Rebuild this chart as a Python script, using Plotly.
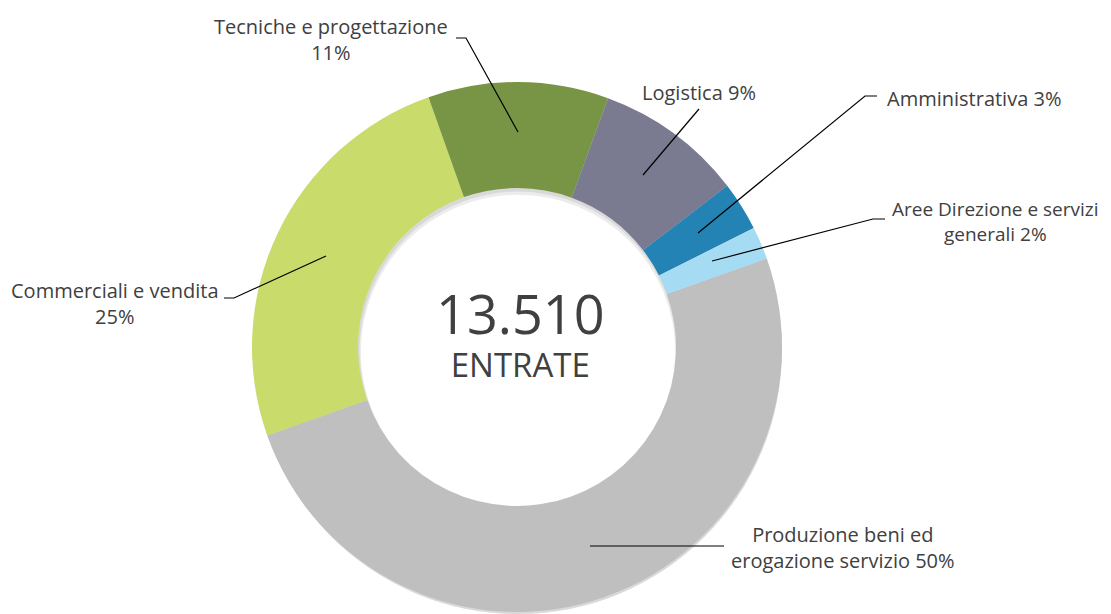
import plotly.graph_objects as go

# the page body adds an 8px margin, so the figure is drawn 8px in from the top-left
OFF = 8
W, H = 1111 - OFF, 614 - OFF

categories = ["Produzione beni ed erogazione servizio", "Commerciali e vendita",
              "Tecniche e progettazione", "Logistica", "Amministrativa",
              "Aree Direzione e servizi generali"]
shares = [50, 25, 11, 9, 3, 2]
colors = ["#bfbfbf", "#c9db6b", "#779544", "#7a7b90", "#2283b4", "#a6dcf3"]
label_texts = ["Produzione beni ed<br>erogazione servizio 50%",
               "Commerciali e vendita<br>25%",
               "Tecniche e progettazione<br>11%",
               "Logistica 9%",
               "Amministrativa 3%",
               "Aree Direzione e servizi<br>generali 2%"]
total_value = "13.510"
center_caption = "ENTRATE"


def px(x):
    return (x - OFF) / W


def py(y):
    return min(1.0, max(0.0, 1 - (y - OFF) / H))


fig = go.Figure()

# soft drop shadow of the ring (grey copies slightly lower, behind it)
for (x0, x1, y0, y1), col in [((256, 780, 614, 90), "#ececec"),
                              ((250, 786, 614, 86), "#d9d9d9")]:
    fig.add_trace(go.Pie(
        values=[1], sort=False, hole=0.6, textinfo="none", hoverinfo="skip",
        marker=dict(colors=[col], line=dict(width=0)),
        domain=dict(x=[px(x0), px(x1)], y=[py(y0), py(y1)]),
        showlegend=False,
    ))

fig.add_trace(go.Pie(
    labels=categories, values=shares, sort=False, direction="clockwise",
    rotation=70.5, hole=0.6, textinfo="none", hoverinfo="label+percent",
    marker=dict(colors=colors, line=dict(width=0)),
    domain=dict(x=[px(252), px(782)], y=[py(612), py(82)]),
    showlegend=False,
))

font = dict(family="Open Sans, Lato, sans-serif", size=20, color="#404040")
label_pos = [(843, 547, "center", 20), (115, 303, "center", 20), (331, 40, "center", 20),
             (699, 93, "center", 20), (885, 98, "left", 20), (995, 221, "center", 19)]
annotations = []
for txt, (x, y, anc, fs) in zip(label_texts, label_pos):
    annotations.append(dict(text=txt, x=px(x), y=py(y), xref="paper", yref="paper",
                            xanchor=anc, yanchor="middle", showarrow=False,
                            font=dict(font, size=fs), align="center"))
annotations.append(dict(
    text=f"<span style='font-size:54px'>{total_value}</span><br>{center_caption}",
    x=px(520), y=py(331), xref="paper", yref="paper",
    xanchor="center", yanchor="middle", showarrow=False, align="center",
    font=dict(family="Open Sans, sans-serif", size=33, color="#404040")))

leaders = [
    [(590, 546), (724, 546)],
    [(224, 298), (234, 298), (326, 256)],
    [(456, 38), (466, 38), (518, 132)],
    [(699, 109), (643, 175)],
    [(877, 96), (865, 96), (698, 233)],
    [(885, 219), (873, 219), (712, 261)],
]
shapes = []
for pts in leaders:
    path = "M " + " L ".join(f"{px(x)},{py(y)}" for x, y in pts)
    shapes.append(dict(type="path", path=path, xref="paper", yref="paper",
                       line=dict(color="#000000", width=1.2)))

fig.update_layout(width=W, height=H, margin=dict(l=0, r=0, t=0, b=0),
                  paper_bgcolor="white", plot_bgcolor="white",
                  annotations=annotations, shapes=shapes)
fig.write_html("out.html")
